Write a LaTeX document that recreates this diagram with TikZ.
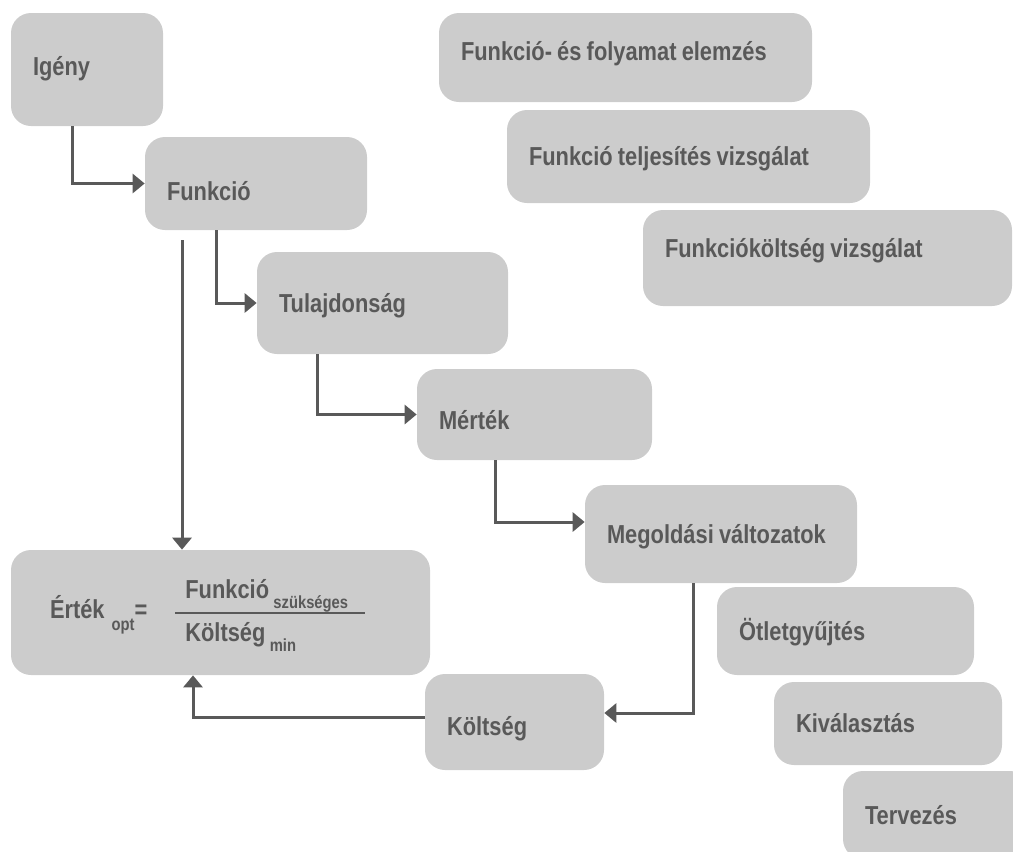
\documentclass[tikz,border=0pt]{standalone}
\usepackage{fontspec}
\setmainfont{Liberation Sans}[FakeStretch=0.84]
\usetikzlibrary{arrows.meta}
\definecolor{boxgray}{HTML}{CCCCCC}
\definecolor{textgray}{HTML}{595959}
\newcommand{\mainsize}{\fontsize{14.8}{17.5}\selectfont}
\newcommand{\subsize}{\fontsize{10}{12}\selectfont}

\begin{document}
\begin{tikzpicture}[
    box/.style={fill=boxgray, rounded corners=0.4cm, inner xsep=0.44cm, inner ysep=0pt,
      align=left, text=textgray, font=\bfseries\mainsize,
      execute at begin node={\spaceskip=0.2em\relax}},
    stage/.style={box, text height=0.37cm, text depth=0pt},
    arr/.style={draw=textgray, line width=0.06cm, -{Triangle[length=0.24cm,width=0.38cm]}}]
    \clip (0,0) rectangle (20.26,-17.02);
    % boxes
    \node[stage, text width=2.16cm, minimum height=2.26cm, text depth=0.14cm] (ig) at (1.74,-1.39) {Igény};
    \node[stage, text width=3.56cm, minimum height=1.86cm, text height=0.67cm] (fu) at (5.12,-3.67) {Funkció};
    \node[stage, text width=4.14cm, minimum height=2.04cm] (tu) at (7.65,-6.06) {Tulajdonság};
    \node[stage, text width=3.82cm, minimum height=1.82cm, text height=0.59cm] (me) at (10.69,-8.29) {Mérték};
    \node[stage, text width=4.56cm, minimum height=1.96cm] (mo) at (14.42,-10.68) {Megoldási változatok};
    \node[stage, text width=4.26cm, minimum height=1.76cm] (ot) at (16.91,-12.62) {Ötletgyűjtés};
    \node[stage, text width=3.68cm, minimum height=1.66cm] (ki) at (17.76,-14.47) {Kiválasztás};
    \node[stage, text width=2.86cm, minimum height=1.76cm] (te) at (18.73,-16.30) {Tervezés};
    \node[stage, text width=6.58cm, minimum height=1.78cm, text depth=0.24cm] (fe) at (12.51,-1.15) {Funkció- és folyamat elemzés};
    \node[stage, text width=6.38cm, minimum height=1.86cm] (ft) at (13.77,-3.13) {Funkció teljesítés vizsgálat};
    \node[stage, text width=6.50cm, minimum height=1.92cm, text depth=0.38cm] (fk) at (16.55,-5.16) {Funkcióköltség vizsgálat};
    \node[stage, text width=2.70cm, minimum height=1.92cm, text height=0.53cm] (ko) at (10.29,-14.44) {Költség};
    \node[box, inner xsep=0.78cm, text width=6.82cm, minimum height=2.5cm] (er) at (4.41,-12.25)
      {Érték\hspace{0.14cm}\raisebox{-0.24cm}{\subsize opt}=\hspace{0.56cm}%
       \renewcommand{\arraystretch}{1.2}\setlength{\arrayrulewidth}{0.03cm}%
       \begin{tabular}{@{\hspace{0.2cm}}l@{\hspace{0.34cm}}}
         Funkció\,\raisebox{-0.2cm}{\subsize szükséges}\\[0.05cm]\hline
         \rule{0pt}{0.55cm}Költség\,\raisebox{-0.2cm}{\subsize min}
       \end{tabular}};
    % arrows
    \draw[arr] ([xshift=-0.3cm]ig.south) |- (fu);
    \draw[arr] ([xshift=-0.8cm]fu.south) |- (tu);
    \draw[arr] ([xshift=-1.31cm]tu.south) |- (me);
    \draw[arr] ([xshift=-0.79cm]me.south) |- ([yshift=0.24cm]mo.west);
    \draw[arr] ([xshift=-1.48cm,yshift=-0.2cm]fu.south) coordinate (f) -- (f |- er.north);
    \draw[arr] ([xshift=-0.56cm]mo.south) |- ([yshift=0.18cm]ko.east);
    \draw[arr] ([yshift=0.1cm]ko.west) -| ([xshift=-0.55cm]er.south);
\end{tikzpicture}
\end{document}
